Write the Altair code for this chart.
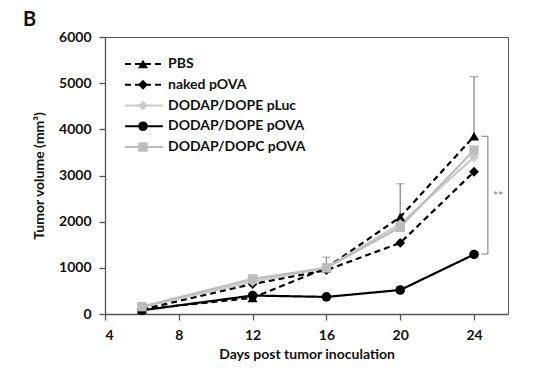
import altair as alt
import pandas as pd

# ---- data ----
days = [6, 12, 16, 20, 24]
series = ["PBS", "naked pOVA", "DODAP/DOPE pLuc", "DODAP/DOPE pOVA", "DODAP/DOPC pOVA"]
pbs = [100, 350, 1000, 2100, 3850]
naked = [100, 650, 950, 1540, 3080]
pluc = [150, 700, 1000, 1950, 3400]
dope_pova = [80, 400, 370, 520, 1290]
dopc_pova = [160, 760, 1000, 1880, 3550]
values = [pbs, naked, pluc, dope_pova, dopc_pova]

err_days = [16, 20, 24]
err_base = [1000, 2100, 3850]
err_plus = [230, 720, 1290]

bracket_x = [24.4, 24.75, 24.75, 24.4]
bracket_y = [3850, 3850, 1300, 1300]
sig_x = [25.3]
sig_y = [2560]
sig_label = ["**"]

x_ticks = [4, 8, 12, 16, 20, 24]
y_ticks = [0, 1000, 2000, 3000, 4000, 5000, 6000]

colors = ["#000000", "#000000", "#C9C9C9", "#000000", "#BDBDBD"]
dashes = [[6, 4], [6, 4], [1, 0], [1, 0], [1, 0]]
widths = [2.2, 2.2, 3, 2, 3]
shapes = ["triangle-up", "diamond", "diamond", "circle", "square"]
sizes = [100, 90, 80, 110, 110]

FONT = "Lato"

rows = []
for s, vals in zip(series, values):
    for d, v in zip(days, vals):
        rows.append({"day": d, "value": v, "series": s})
df = pd.DataFrame(rows)

err_df = pd.DataFrame({"day": err_days, "lo": err_base,
                       "hi": [b + p for b, p in zip(err_base, err_plus)]})
br_df = pd.DataFrame({"x": bracket_x, "y": bracket_y, "i": list(range(len(bracket_x)))})
sig_df = pd.DataFrame({"x": sig_x, "y": sig_y, "t": sig_label})
leg_df = pd.DataFrame({"series": series})

xs = alt.Scale(domain=[4, 25.84], nice=False, zero=False)
ys = alt.Scale(domain=[0, 6000], nice=False)

color = alt.Color("series:N", scale=alt.Scale(domain=series, range=colors), legend=None)
dash = alt.StrokeDash("series:N", scale=alt.Scale(domain=series, range=dashes), legend=None)
swidth = alt.StrokeWidth("series:N", scale=alt.Scale(domain=series, range=widths), legend=None)
shape = alt.Shape("series:N", scale=alt.Scale(domain=series, range=shapes), legend=None)
size = alt.Size("series:N", scale=alt.Scale(domain=series, range=sizes), legend=None)

X = alt.X("day:Q", scale=xs, title="Days post tumor inoculation",
          axis=alt.Axis(values=x_ticks, grid=False, format="d"))
Y = alt.Y("value:Q", scale=ys, title="Tumor volume (mm³)",
          axis=alt.Axis(values=y_ticks, grid=False, format="d", orient="left"))


def xq(f):
    return alt.X(f, scale=xs, title="Days post tumor inoculation",
                 axis=alt.Axis(values=x_ticks, grid=False, format="d"))


def yq(f):
    return alt.Y(f, scale=ys, axis=None)


lines = alt.Chart(df).mark_line().encode(
    x=X, y=Y, color=color, strokeDash=dash, strokeWidth=swidth, detail="series:N",
    order="day:Q")

err_rule = alt.Chart(err_df).mark_rule(color="#8a8a8a", strokeWidth=1.3).encode(
    x=xq("day:Q"), y=yq("lo:Q"), y2="hi:Q")
err_cap = alt.Chart(err_df).mark_tick(color="#8a8a8a", thickness=1.3, size=8,
                                      orient="horizontal").encode(
    x=xq("day:Q"), y=yq("hi:Q"))

points = alt.Chart(df).mark_point(filled=True, opacity=1).encode(
    x=xq("day:Q"), y=yq("value:Q"), color=color, shape=shape, size=size)

bracket = alt.Chart(br_df).mark_line(color="#777777", strokeWidth=1).encode(
    x=xq("x:Q"), y=yq("y:Q"), order="i:Q")
sig = alt.Chart(sig_df).mark_text(color="#777777", fontSize=12, font=FONT).encode(
    x=xq("x:Q"), y=yq("y:Q"), text="t:N")

LY = alt.Y("series:N", scale=alt.Scale(domain=series, range=[27, 110], type="point", padding=0),
           axis=None)
leg_line = alt.Chart(leg_df).mark_rule().encode(
    x=alt.value(20), x2=alt.value(58), y=LY, color=color, strokeDash=dash, strokeWidth=swidth)
leg_pt = alt.Chart(leg_df).mark_point(filled=True, opacity=1).encode(
    x=alt.value(38), y=LY, color=color, shape=shape, size=size)
leg_txt = alt.Chart(leg_df).mark_text(align="left", baseline="middle", fontSize=14,
                                      fontWeight="bold", font=FONT, color="#111111").encode(
    x=alt.value(63), y=LY, text="series:N")

panel = alt.Chart(pd.DataFrame({"t": ["B"]})).mark_text(
    align="left", baseline="top", fontSize=20, fontWeight="bold", font=FONT,
    color="#111111").encode(x=alt.value(-82), y=alt.value(-27), text="t:N")

chart = alt.layer(lines, err_rule, err_cap, points, bracket, sig,
                  leg_line, leg_pt, leg_txt, panel).resolve_scale(y="independent").properties(
    width=403, height=277,
    autosize=alt.AutoSizeParams(type="none"),
    padding={"left": 97, "top": 29, "right": 38, "bottom": 54},
).configure_view(stroke="#555555", strokeWidth=1).configure_axis(
    labelFont=FONT, titleFont=FONT, labelFontSize=14, titleFontSize=14,
    labelFontWeight="bold", titleFontWeight="bold", labelColor="#111111",
    titleColor="#111111", domainColor="#555555", tickColor="#555555",
    domainWidth=1.3, tickWidth=1.3, tickSize=6, labelPadding=8,
).configure_axisX(titlePadding=5).configure_axisY(titlePadding=12)

chart.save("out.html", embed_options={"renderer": "svg", "actions": False})
